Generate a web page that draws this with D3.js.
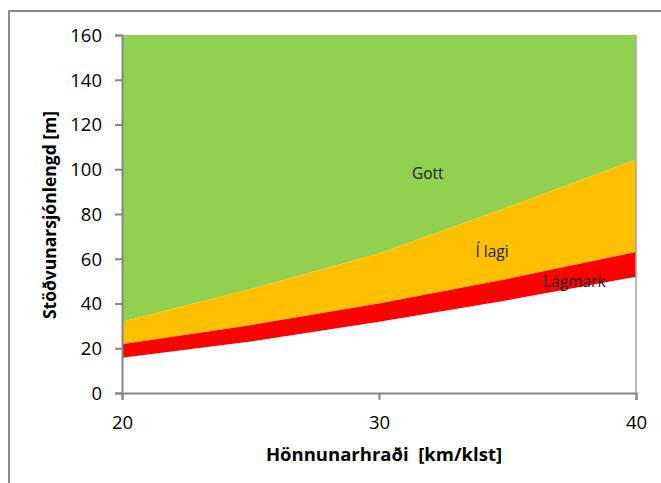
<!DOCTYPE html>
<html>
<head>
<meta charset="utf-8">
<script src="https://cdn.jsdelivr.net/npm/d3@7"></script>
<style>
  body { margin: 0; background: #fff; }
  svg { display: block; font-family: "Open Sans", sans-serif; }
</style>
</head>
<body>
<div id="chart"></div>
<script>
const width = 661, height = 483;
const margin = { top: 35, right: 25, bottom: 90, left: 122 };

// hraði (km/klst) og mörk stöðvunarsjónlengdar (m)
const speeds = [20, 25, 30, 35, 40];
const lagmark = [15.8, 23.0, 31.8, 41.5, 51.9]; // neðri brún rauða svæðisins
const ilagi = [21.8, 30.3, 40.0, 51.0, 63.0];   // efri brún rauða svæðisins
const gott = [31.8, 46.5, 62.3, 83.0, 104.4];   // efri brún gula svæðisins
const yMax = 160;
const xTicks = [20, 30, 40];
const yTicks = [0, 20, 40, 60, 80, 100, 120, 140, 160];

const rows = speeds.map((s, i) => ({ s, low: lagmark[i], mid: ilagi[i], high: gott[i] }));

const svg = d3.select("#chart").append("svg")
  .attr("width", width)
  .attr("height", height);

// chart border
svg.append("rect")
  .attr("x", 9).attr("y", 11)
  .attr("width", 700).attr("height", 500)
  .attr("fill", "none")
  .attr("stroke", "#8c8c8c")
  .attr("stroke-width", 2);

const x = d3.scaleLinear()
  .domain([20, 40])
  .range([margin.left, width - margin.right]);

const y = d3.scaleLinear()
  .domain([0, yMax])
  .range([height - margin.bottom, margin.top]);

const band = (lo, hi) => d3.area()
  .x((d) => x(d.s))
  .y0(lo)
  .y1(hi);

// Gott
svg.append("path").datum(rows)
  .attr("fill", "#92d050")
  .attr("d", band((d) => y(d.high), () => y(yMax)));
// Í lagi
svg.append("path").datum(rows)
  .attr("fill", "#ffc000")
  .attr("d", band((d) => y(d.mid), (d) => y(d.high)));
// Lágmark
svg.append("path").datum(rows)
  .attr("fill", "#ff0000")
  .attr("d", band((d) => y(d.low), (d) => y(d.mid)));

// right edge line
svg.append("line")
  .attr("x1", x(40)).attr("x2", x(40))
  .attr("y1", y(yMax)).attr("y2", y(0))
  .attr("stroke", "#a6a6a6")
  .attr("stroke-width", 1.5);

const xAxis = d3.axisBottom(x).tickValues(xTicks).tickSize(7).tickPadding(16).tickFormat(d3.format("d"));
const yAxis = d3.axisLeft(y).tickValues(yTicks).tickSize(7).tickPadding(13);

const styleAxis = (g) => {
  g.select(".domain").attr("stroke", "#868686").attr("stroke-width", 2);
  g.selectAll(".tick line").attr("stroke", "#868686").attr("stroke-width", 2);
  g.selectAll(".tick text")
    .attr("fill", "#000")
    .style("font-size", "18.5px")
    .style("font-family", "'Open Sans', sans-serif");
};

svg.append("g")
  .attr("transform", `translate(0,${y(0)})`)
  .call(xAxis)
  .call(styleAxis);

svg.append("g")
  .attr("transform", `translate(${margin.left},0)`)
  .call(yAxis)
  .call(styleAxis)
  .call((g) => g.selectAll(".tick text").attr("dy", "0.35em"));

// axis titles
svg.append("text")
  .attr("x", 384).attr("y", 461)
  .attr("text-anchor", "middle")
  .attr("font-weight", "bold")
  .attr("font-size", 18.5)
  .attr("xml:space", "preserve")
  .text("Hönnunarhraði  [km/klst]");

svg.append("text")
  .attr("transform", "translate(56,215) rotate(-90)")
  .attr("text-anchor", "middle")
  .attr("font-weight", "bold")
  .attr("font-size", 17.5)
  .text("Stöðvunarsjónlengd [m]");

// zone labels
const labels = [
  { t: "Gott", s: 31.9, v: 98 },
  { t: "Í lagi", s: 34.4, v: 63 },
  { t: "Lágmark", s: 37.6, v: 50 },
];
svg.selectAll(".zone")
  .data(labels)
  .join("text")
  .attr("class", "zone")
  .attr("x", (d) => x(d.s))
  .attr("y", (d) => y(d.v))
  .attr("text-anchor", "middle")
  .attr("dy", "0.35em")
  .attr("font-size", 15.5)
  .attr("fill", "#1a1a1a")
  .text((d) => d.t);
</script>
</body>
</html>
